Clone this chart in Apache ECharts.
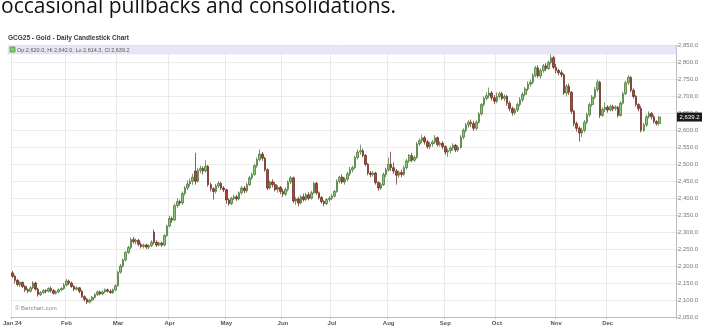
<!DOCTYPE html>
<html><head><meta charset="utf-8">
<script src="https://cdn.jsdelivr.net/npm/echarts@6/dist/echarts.min.js"></script>
<style>html,body{margin:0;padding:0;background:#fff;}#c{width:704px;height:329px;}</style>
</head><body><div id="c"></div>
<script>
// Daily candles [open, close, low, high], one array per month (2024)
const jan = [[2180,2170,2165,2186],[2170,2158,2150,2174],[2158,2146,2140,2162],[2144,2152,2138,2156],[2152,2140,2135,2155],[2140,2130,2124,2144],[2130,2126,2120,2134],[2126,2136,2122,2140],[2136,2150,2132,2156],[2150,2132,2128,2154],[2132,2116,2110,2136],[2116,2122,2112,2126],[2122,2128,2118,2132],[2128,2126,2120,2132],[2126,2134,2122,2138],[2134,2128,2122,2140],[2128,2120,2116,2132],[2120,2124,2116,2128],[2124,2130,2120,2134],[2130,2134,2126,2138],[2134,2144,2130,2150]];
const feb = [[2144,2156,2140,2162],[2156,2150,2144,2160],[2150,2140,2136,2154],[2140,2132,2126,2144],[2132,2136,2128,2140],[2136,2126,2120,2138],[2126,2110,2106,2130],[2110,2102,2096,2114],[2102,2094,2088,2106],[2094,2100,2090,2104],[2100,2108,2096,2112],[2108,2116,2104,2120],[2116,2124,2112,2128],[2124,2118,2114,2128],[2118,2124,2114,2128],[2124,2130,2120,2134],[2130,2126,2122,2134],[2126,2122,2118,2132],[2122,2130,2118,2134],[2130,2142,2126,2146]];
const mar = [[2142,2182,2140,2186],[2182,2200,2178,2206],[2200,2218,2196,2222],[2218,2240,2214,2244],[2240,2255,2236,2260],[2255,2278,2250,2284],[2278,2272,2266,2286],[2272,2276,2264,2282],[2276,2264,2258,2280],[2264,2258,2252,2270],[2258,2262,2252,2266],[2262,2256,2250,2266],[2256,2260,2250,2264],[2260,2270,2256,2276],[2300,2270,2264,2308],[2270,2262,2256,2276],[2262,2268,2258,2272],[2268,2262,2256,2272],[2262,2290,2258,2294],[2290,2318,2286,2322]];
const apr = [[2318,2340,2314,2348],[2340,2336,2328,2346],[2336,2378,2332,2384],[2378,2390,2372,2400],[2390,2386,2378,2396],[2386,2414,2380,2420],[2414,2430,2408,2436],[2430,2442,2424,2452],[2442,2450,2434,2458],[2450,2462,2440,2472],[2480,2450,2440,2534],[2450,2482,2446,2490],[2482,2488,2474,2496],[2488,2480,2470,2494],[2480,2494,2476,2512],[2494,2440,2434,2498],[2440,2428,2420,2446],[2428,2420,2396,2432],[2420,2436,2414,2442],[2436,2444,2430,2450],[2444,2430,2424,2448],[2430,2425,2418,2436]];
const may = [[2425,2395,2384,2428],[2395,2384,2378,2400],[2384,2400,2380,2404],[2400,2404,2394,2410],[2404,2398,2392,2410],[2398,2416,2394,2420],[2416,2430,2410,2436],[2430,2422,2414,2436],[2422,2440,2416,2446],[2440,2460,2436,2466],[2460,2470,2454,2476],[2470,2496,2466,2500],[2496,2514,2490,2520],[2514,2530,2508,2544],[2530,2518,2510,2536],[2518,2484,2478,2522],[2484,2430,2424,2488],[2430,2448,2426,2452],[2448,2440,2432,2456],[2440,2426,2420,2448],[2426,2432,2416,2438],[2432,2420,2412,2436]];
const jun = [[2420,2412,2404,2428],[2412,2426,2406,2432],[2426,2448,2420,2452],[2448,2460,2442,2466],[2460,2392,2386,2464],[2392,2398,2380,2404],[2398,2386,2376,2404],[2386,2404,2382,2410],[2404,2396,2390,2414],[2396,2410,2392,2416],[2410,2400,2394,2418],[2400,2416,2396,2422],[2416,2444,2412,2448],[2444,2416,2410,2448],[2416,2402,2396,2420],[2402,2390,2384,2406],[2390,2384,2376,2394],[2384,2396,2380,2400],[2396,2400,2390,2406]];
const jul = [[2400,2406,2394,2412],[2406,2420,2402,2424],[2420,2450,2416,2456],[2450,2462,2444,2466],[2462,2448,2442,2470],[2448,2456,2440,2462],[2456,2472,2450,2478],[2472,2484,2466,2492],[2484,2490,2476,2496],[2490,2520,2486,2526],[2520,2536,2514,2544],[2536,2540,2528,2558],[2540,2526,2520,2546],[2526,2500,2494,2530],[2500,2474,2468,2504],[2474,2470,2462,2480],[2470,2474,2464,2480],[2474,2446,2440,2478],[2446,2430,2422,2450],[2430,2440,2424,2446],[2440,2470,2436,2476],[2470,2484,2462,2490]];
const aug = [[2484,2500,2478,2520],[2500,2490,2480,2537],[2490,2480,2472,2506],[2480,2468,2440,2486],[2468,2476,2460,2482],[2476,2470,2462,2484],[2470,2490,2466,2496],[2490,2510,2484,2516],[2510,2526,2504,2530],[2526,2512,2506,2534],[2512,2520,2508,2526],[2520,2560,2516,2566],[2560,2570,2554,2576],[2570,2578,2562,2587],[2578,2566,2558,2584],[2566,2552,2546,2572],[2552,2560,2544,2566],[2560,2566,2552,2572],[2566,2578,2560,2586],[2578,2558,2552,2582],[2558,2562,2552,2568],[2562,2552,2544,2568]];
const sep = [[2552,2536,2528,2556],[2536,2540,2522,2546],[2540,2548,2532,2554],[2548,2556,2540,2562],[2556,2542,2536,2560],[2542,2550,2536,2556],[2550,2580,2546,2586],[2580,2600,2574,2606],[2600,2616,2594,2622],[2616,2624,2608,2630],[2624,2620,2610,2632],[2620,2606,2598,2628],[2606,2624,2600,2630],[2624,2648,2620,2654],[2648,2676,2644,2680],[2676,2694,2670,2700],[2694,2702,2688,2712],[2702,2710,2694,2726],[2710,2696,2688,2716],[2696,2686,2678,2704]];
const oct = [[2686,2700,2680,2712],[2700,2708,2694,2714],[2708,2694,2688,2714],[2694,2700,2686,2706],[2700,2680,2672,2704],[2680,2664,2656,2686],[2664,2652,2643,2670],[2652,2660,2646,2666],[2660,2676,2654,2682],[2676,2690,2670,2698],[2690,2706,2684,2712],[2706,2722,2700,2728],[2722,2736,2716,2744],[2736,2742,2728,2750],[2742,2762,2736,2768],[2762,2784,2756,2790],[2784,2760,2754,2792],[2760,2776,2752,2782],[2776,2790,2770,2796],[2790,2782,2774,2798],[2782,2800,2778,2806],[2800,2814,2794,2824],[2814,2786,2780,2820]];
const nov = [[2786,2776,2768,2796],[2776,2770,2762,2782],[2770,2764,2756,2778],[2764,2710,2704,2768],[2710,2730,2700,2736],[2730,2712,2704,2738],[2712,2656,2648,2716],[2656,2620,2612,2660],[2620,2606,2596,2626],[2606,2592,2567,2612],[2592,2600,2580,2608],[2600,2624,2594,2630],[2624,2646,2618,2652],[2646,2676,2640,2682],[2676,2698,2670,2704],[2698,2720,2692,2728],[2720,2742,2714,2750],[2742,2644,2636,2746],[2644,2662,2640,2668],[2662,2668,2654,2682]];
const dec = [[2668,2660,2652,2674],[2660,2670,2656,2676],[2670,2664,2656,2676],[2664,2668,2658,2674],[2668,2644,2638,2672],[2644,2680,2640,2686],[2680,2708,2676,2714],[2708,2740,2704,2746],[2740,2756,2734,2762],[2756,2718,2712,2760],[2718,2700,2694,2724],[2700,2676,2670,2704],[2676,2664,2656,2680],[2664,2600,2594,2672],[2600,2616,2596,2622],[2616,2640,2610,2646],[2640,2650,2634,2656],[2650,2640,2632,2654],[2640,2626,2620,2646],[2626,2620,2614,2630],[2620,2639.2,2614.3,2642]];

const months = [jan, feb, mar, apr, may, jun, jul, aug, sep, oct, nov, dec];
const monthLabels = ['Jan 24','Feb','Mar','Apr','May','Jun','Jul','Aug','Sep','Oct','Nov','Dec'];
const yTicks = {min: 2050, max: 2850, step: 50};
const lastBar = {open: 2620.0, high: 2642.0, low: 2614.3, close: 2639.2};
const padDays = 6;

// build categories & data
const categories = [];
const candles = [];
const monthStart = {};
months.forEach((m, mi) => {
  m.forEach((row, di) => {
    const key = mi + '-' + di;
    if (di === 0) monthStart[categories.length] = monthLabels[mi];
    categories.push(key);
    candles.push(row);
  });
});
for (let i = 0; i < padDays; i++) { categories.push('pad' + i); candles.push('-'); }

const fmt = v => v.toLocaleString('en-US', {minimumFractionDigits: 1, maximumFractionDigits: 1});
const isStart = (idx) => monthStart.hasOwnProperty(idx);

const chart = echarts.init(document.getElementById('c'), null, {renderer: 'canvas'});
const FONT = 'Liberation Sans, Arial, sans-serif';
const baseGraphic = [
  {type: 'text', left: 1, top: -3, style: {text: 'occasional pullbacks and consolidations.', font: '500 21px "Open Sans", Lato, sans-serif', fill: '#111'}},
  {type: 'text', left: 8, top: 35, style: {text: 'GCG25 - Gold - Daily Candlestick Chart', font: 'bold 6.5px ' + FONT, fill: '#3a3a3a'}},
  {type: 'rect', shape: {x: 8, y: 45.5, width: 668, height: 8.5}, style: {fill: '#e6e6f6', stroke: '#d6d6ec', lineWidth: 0.5}, z: 50},
  {type: 'rect', shape: {x: 10, y: 47, width: 5, height: 5}, style: {fill: '#7fcf6a', stroke: '#3d7a2e', lineWidth: 0.6}, z: 51},
  {type: 'text', left: 17, top: 47, z: 51, style: {text: 'Op:' + fmt(lastBar.open) + ', Hi ' + fmt(lastBar.high) + ', Lo ' + fmt(lastBar.low) + ', Cl ' + fmt(lastBar.close), font: '5.5px ' + FONT, fill: '#555'}},
  {type: 'text', left: 15, top: 305, style: {text: '© Barchart.com', font: '6px ' + FONT, fill: '#8a8a8a'}}
];
chart.setOption({
  animation: false,
  textStyle: {fontFamily: FONT},
  grid: {left: 7.7, right: 28, top: 45.5, bottom: 12, containLabel: false},
  xAxis: {
    type: 'category', data: categories, boundaryGap: true,
    axisLine: {lineStyle: {color: '#bdbdbd', width: 1}},
    axisTick: {show: true, length: 2, interval: (i) => isStart(i), lineStyle: {color: '#bdbdbd'}},
    splitLine: {show: true, interval: (i) => isStart(i), lineStyle: {color: '#e9e9e9', width: 1}},
    axisLabel: {interval: (i) => isStart(i), formatter: (v, i) => monthStart[i] || '', fontSize: 6, color: '#555', fontWeight: 'bold', margin: 3}
  },
  yAxis: {
    type: 'value', position: 'right', min: yTicks.min, max: yTicks.max, interval: yTicks.step,
    axisLine: {show: true, lineStyle: {color: '#bdbdbd'}},
    axisTick: {show: true, length: 2, lineStyle: {color: '#bdbdbd'}},
    splitLine: {show: true, lineStyle: {color: '#ececec', width: 1}},
    axisLabel: {formatter: fmt, fontSize: 6, color: '#777', margin: 2}
  },
  series: [{
    type: 'candlestick', data: candles, barWidth: '80%',
    itemStyle: {color: '#86c96e', color0: '#b8452f', borderColor: '#3d6b2e', borderColor0: '#5a2218', borderWidth: 0.7}
  }],
  graphic: baseGraphic
});

const py = chart.convertToPixel({yAxisIndex: 0}, lastBar.close);
chart.setOption({graphic: baseGraphic.concat([
  {type: 'rect', z: 60, shape: {x: 677, y: py - 4.5, width: 25, height: 9}, style: {fill: '#1a1a1a'}},
  {type: 'text', z: 61, x: 689.5, y: py, style: {text: fmt(lastBar.close), font: '6px ' + FONT, fill: '#fff', align: 'center', verticalAlign: 'middle'}}
])});
</script></body></html>
